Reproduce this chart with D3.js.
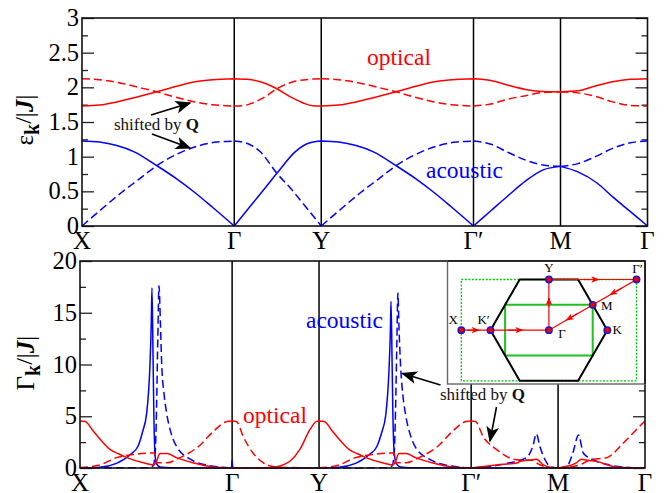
<!DOCTYPE html>
<html>
<head>
<meta charset="utf-8">
<script src="https://cdn.jsdelivr.net/npm/d3@7"></script>
<style>
  html, body { margin: 0; padding: 0; background: #fff; }
  svg { display: block; }
  text { font-family: "Liberation Serif", serif; }
</style>
</head>
<body>
<div id="board"></div>
<script>
  "use strict";

  // high symmetry points along the path
  var pathLabels = ['X', 'Γ', 'Y', 'Γ′', 'M', 'Γ'];
  var pathPositions = [0, 1.75, 2.75, 4.5, 5.5, 6.5];

  // upper panel: dispersion [path position, energy]
  var energyAcoustic = [[0,1.225],[.2,1.21],[.4,1.16],[.6,1.07],[.86,.87],[1.1,.67],[1.3,.48],[1.5,.27],[1.75,0],
    [1.95,.31],[2.1,.54],[2.24,.76],[2.45,1.07],[2.62,1.2],[2.75,1.225],
    [2.95,1.21],[3.15,1.16],[3.35,1.07],[3.61,.87],[3.85,.67],[4.05,.48],[4.25,.27],[4.5,0],
    [4.7,.22],[4.9,.44],[5.1,.65],[5.3,.81],[5.5,.86],
    [5.7,.78],[5.92,.62],[6.1,.42],[6.3,.21],[6.5,0]];
  var energyAcousticShifted = [[0,0],[.25,.27],[.45,.48],[.65,.67],[.86,.87],[1.15,1.07],[1.35,1.16],[1.55,1.21],[1.75,1.225],
    [1.88,1.2],[2.05,1.07],[2.24,.76],[2.4,.54],[2.55,.31],[2.75,0],
    [3,.27],[3.2,.48],[3.4,.67],[3.61,.87],[3.9,1.07],[4.1,1.16],[4.3,1.21],[4.5,1.225],
    [4.7,1.18],[4.9,1.06],[5.1,.95],[5.3,.88],[5.5,.86],
    [5.7,.9],[5.9,1],[6.1,1.12],[6.3,1.2],[6.5,1.225]];
  var energyOptical = [[0,1.73],[.2,1.745],[.4,1.79],[.6,1.85],[.86,1.935],[1.1,2.02],[1.3,2.08],[1.5,2.11],[1.75,2.125],
    [1.9,2.115],[2.05,2.08],[2.24,1.98],[2.4,1.86],[2.55,1.77],[2.65,1.735],[2.75,1.73],
    [2.95,1.745],[3.15,1.79],[3.35,1.85],[3.61,1.935],[3.85,2.02],[4.05,2.08],[4.25,2.11],[4.5,2.125],
    [4.7,2.1],[4.9,2.03],[5.1,1.97],[5.3,1.94],[5.5,1.935],
    [5.7,1.95],[5.9,2.02],[6.1,2.08],[6.3,2.115],[6.5,2.125]];
  var energyOpticalShifted = [[0,2.125],[.2,2.11],[.45,2.06],[.65,2.0],[.86,1.935],[1.1,1.85],[1.3,1.79],[1.5,1.75],[1.75,1.73],
    [1.85,1.735],[1.95,1.77],[2.1,1.86],[2.24,1.98],[2.43,2.08],[2.6,2.115],[2.75,2.125],
    [2.95,2.11],[3.2,2.06],[3.4,2.0],[3.61,1.935],[3.85,1.85],[4.05,1.79],[4.25,1.75],[4.5,1.73],
    [4.7,1.76],[4.9,1.83],[5.1,1.88],[5.3,1.925],[5.5,1.935],
    [5.7,1.92],[5.9,1.87],[6.1,1.79],[6.3,1.74],[6.5,1.73]];

  // lower panel: damping [path position, gamma]
  var dampAcoustic = [[0,0],[.23,.08],[.42,.45],[.5,.8],[.58,1.3],[.667,2.1],[.72,3.5],[.767,5.3],[.805,10],[.82,14],[.828,17.4],
    [.84,11],[.85,5],[.86,1.8],[.875,.5],[.92,.1],[1.05,.02],[1.74,0],[1.75,.8],
    [1.76,0],[2.75,0],[2.98,.08],[3.17,.45],[3.25,.8],[3.33,1.3],[3.417,2.1],[3.47,3.4],[3.517,5.1],[3.555,9.5],[3.57,13],[3.578,16.1],
    [3.59,10.5],[3.6,5],[3.615,1.5],[3.64,.4],[3.69,.1],[3.8,.02],[4.5,0],[5.5,0],[6.5,0]];
  var dampAcousticShifted = [[0,.02],[.78,.02],[.84,.2],[.865,1.5],[.88,5.5],[.895,12.5],[.909,17.6],
    [.925,14],[.94,10],[.965,7.3],[.997,5.3],[1.05,3.3],[1.11,2.1],[1.28,.8],[1.45,.3],[1.6,.1],[1.75,0],
    [2.75,0],[3.53,.02],[3.59,.2],[3.615,1.5],[3.63,5.5],[3.645,12],[3.657,16.9],
    [3.67,13.5],[3.69,9.6],[3.715,7],[3.747,5.1],[3.8,3.2],[3.86,2],[4.03,.8],[4.2,.3],[4.35,.1],[4.5,0],
    [4.715,.15],[4.945,.5],[5.136,1],[5.21,2.1],[5.25,3.3],[5.29,2.1],[5.35,.8],[5.42,.1],[5.5,0],
    [5.6,.15],[5.67,1.45],[5.735,3.2],[5.79,1.45],[5.9,.8],[6.09,.3],[6.325,.05],[6.5,0]];
  var dampOptical = [[0,4.55],[.06,4.5],[.15,3.6],[.25,2.6],[.345,1.8],[.45,1.35],[.54,1],[.73,.5],[.85,.3],[.875,.55],[.92,1.4],[1,1.4],[1.11,1],[1.3,.5],[1.53,.1],[1.75,0],
    [2.2,.05],[2.3,.2],[2.415,.65],[2.53,1.8],[2.645,3.7],[2.72,4.5],[2.75,4.55],
    [2.81,4.5],[2.9,3.6],[3,2.6],[3.095,1.8],[3.2,1.35],[3.29,1],[3.48,.5],[3.6,.3],[3.625,.55],[3.67,1.4],[3.75,1.4],[3.86,1],[4.05,.5],[4.28,.1],[4.5,0],
    [4.79,.3],[5.04,.5],[5.06,.65],[5.21,.8],[5.25,.85],[5.33,.3],[5.44,.03],[5.5,0],
    [5.56,.1],[5.71,.5],[5.77,.85],[5.83,.75],[5.94,.65],[6.13,.15],[6.325,.03],[6.5,0]];
  var dampOpticalShifted = [[0,.05],[.23,.3],[.42,1],[.61,1.3],[.86,1.45],[.882,.5],[1,.5],[1.15,1],[1.38,2.2],[1.53,3.5],[1.69,4.5],[1.75,4.55],
    [1.8,4.5],[1.88,3],[1.99,1.45],[2.11,.5],[2.22,.15],[2.4,.05],[2.75,.02],
    [2.98,.3],[3.17,1],[3.36,1.3],[3.61,1.45],[3.632,.5],[3.75,.5],[3.9,1],[4.13,2.2],[4.28,3.5],[4.44,4.5],[4.5,4.55],
    [4.55,4.5],[4.64,3],[4.79,1.8],[5.02,.8],[5.21,.75],[5.27,.4],[5.37,.1],[5.5,0],
    [5.75,.3],[5.87,.8],[6.06,1],[6.25,2.4],[6.4,3.7],[6.5,4.55]];

  var energyTicks = [0, 0.5, 1, 1.5, 2, 2.5, 3];
  var energyMinorTicks = [0.25, 0.75, 1.25, 1.75, 2.25, 2.75];
  var dampTicks = [0, 5, 10, 15, 20];
  var dampMinorTicks = [2.5, 7.5, 12.5, 17.5];

  // inset: Brillouin zone, k space units
  var zonePoints = [
    {name: 'X', k: [-1.5, 0], dx: -8, dy: -6},
    {name: 'K′', k: [-1, 0], dx: -7, dy: -6},
    {name: 'Γ', k: [0, 0], dx: 13, dy: 8},
    {name: 'K', k: [1, 0], dx: 10, dy: 4},
    {name: 'Y', k: [0, 0.866], dx: 0, dy: -8},
    {name: 'Γ′', k: [1.5, 0.866], dx: 1, dy: -7},
    {name: 'M', k: [0.75, 0.433], dx: 14, dy: 5}
  ];
  var hexagon = [[-1, 0], [-0.5, 0.866], [0.5, 0.866], [1, 0], [0.5, -0.866], [-0.5, -0.866]];
  var greenBox = [[-0.75, 0.433], [0.75, 0.433], [0.75, -0.433], [-0.75, -0.433]];
  var dottedBox = [[-1.5, 0.866], [1.5, 0.866], [1.5, -0.866], [-1.5, -0.866]];
  var zonePath = [[-1.5, 0], [0, 0], [0, 0.866], [1.5, 0.866], [0, 0]];
  // arrow heads on the path: [from, to]
  var zoneArrows = [
    [[-1.4, 0], [-1.2, 0]], [[-0.7, 0], [-0.45, 0]], [[0, 0.4], [0, 0.55]],
    [[0.6, 0.866], [0.85, 0.866]], [[1.25, 0.72], [1.05, 0.606]], [[0.5, 0.289], [0.3, 0.173]]
  ];

  var width = 667, height = 493;
  var red = '#ff0000', blue = '#0000ff';

  var svg = d3.select('#board').append('svg')
    .attr('width', width)
    .attr('height', height);

  var defs = svg.append('defs');
  var addMarker = function(id, color, size) {
    defs.append('marker')
      .attr('id', id)
      .attr('viewBox', '0 0 10 8')
      .attr('refX', 9).attr('refY', 4)
      .attr('markerUnits', 'userSpaceOnUse')
      .attr('markerWidth', size).attr('markerHeight', size * 0.8)
      .attr('orient', 'auto')
      .append('path')
      .attr('d', 'M0,0 L10,4 L0,8 L2.5,4 Z')
      .attr('fill', color);
  };
  addMarker('headBlack', '#000', 16);
  addMarker('headRed', red, 8);

  // cut a series at the high symmetry points, kinks stay sharp there
  var splitAtPath = function(points) {
    var parts = [], current = [];
    points.forEach(function(p) {
      current.push(p);
      if (pathPositions.indexOf(p[0]) >= 0 && current.length > 1) {
        parts.push(current);
        current = [p];
      }
    });
    return parts;
  };

  var drawPanel = function(opts) {
    var x = d3.scaleLinear().domain([0, 6.5]).range([opts.left, opts.right]);
    var y = d3.scaleLinear().domain(opts.yDomain).range([opts.bottom, opts.top]);
    var g = svg.append('g');

    // vertical lines
    g.selectAll('line.sym').data(pathPositions.slice(1, 5)).enter().append('line')
      .attr('class', 'sym')
      .attr('x1', function(d) { return x(d); })
      .attr('x2', function(d) { return x(d); })
      .attr('y1', opts.top).attr('y2', opts.bottom)
      .attr('stroke', '#000').attr('stroke-width', 1.5);

    // ticks, both sides
    var sides = [[opts.left, 1], [opts.right, -1]];
    sides.forEach(function(s) {
      var axis = s[1] > 0 ? d3.axisRight(y) : d3.axisLeft(y);
      var major = g.append('g').attr('transform', 'translate(' + s[0] + ',0)')
        .call(axis.tickValues(opts.ticks).tickSize(12).tickFormat(''));
      major.select('.domain').remove();
      var minorAxis = s[1] > 0 ? d3.axisRight(y) : d3.axisLeft(y);
      var minor = g.append('g').attr('transform', 'translate(' + s[0] + ',0)')
        .call(minorAxis.tickValues(opts.minorTicks).tickSize(6).tickFormat(''));
      minor.select('.domain').remove();
      g.selectAll('.tick line').attr('stroke', '#222').attr('stroke-width', 1.3);
    });

    g.selectAll('text.ylab').data(opts.ticks).enter().append('text')
      .attr('class', 'ylab')
      .attr('x', opts.left - 3)
      .attr('y', function(d) { return y(d) + 8; })
      .attr('text-anchor', 'end')
      .attr('font-size', 24.5)
      .text(function(d) { return d; });

    g.selectAll('text.xlab').data(pathLabels).enter().append('text')
      .attr('class', 'xlab')
      .attr('x', function(d, i) { return x(pathPositions[i]); })
      .attr('y', opts.bottom + 23)
      .attr('text-anchor', 'middle')
      .attr('font-size', 25)
      .text(function(d) { return d; });

    var line = d3.line()
      .x(function(d) { return x(d[0]); })
      .y(function(d) { return y(d[1]); })
      .curve(d3.curveMonotoneX);

    opts.series.forEach(function(s) {
      var d = splitAtPath(s.points).map(line).join('');
      g.append('path')
        .attr('d', d)
        .attr('fill', 'none')
        .attr('stroke', s.color)
        .attr('stroke-width', 1.5)
        .attr('stroke-dasharray', s.dashed ? '8,4' : null);
    });

    g.append('rect')
      .attr('x', opts.left).attr('y', opts.top)
      .attr('width', opts.right - opts.left)
      .attr('height', opts.bottom - opts.top)
      .attr('fill', 'none')
      .attr('stroke', '#111').attr('stroke-width', 1.6);
  };

  drawPanel({
    left: 82, right: 647.5, top: 18, bottom: 226,
    yDomain: [0, 3], ticks: energyTicks, minorTicks: energyMinorTicks,
    series: [
      {points: energyOptical, color: red},
      {points: energyOpticalShifted, color: red, dashed: true},
      {points: energyAcoustic, color: blue},
      {points: energyAcousticShifted, color: blue, dashed: true}
    ]
  });

  drawPanel({
    left: 80, right: 645, top: 261, bottom: 468,
    yDomain: [0, 20], ticks: dampTicks, minorTicks: dampMinorTicks,
    series: [
      {points: dampAcoustic, color: blue},
      {points: dampAcousticShifted, color: blue, dashed: true},
      {points: dampOptical, color: red},
      {points: dampOpticalShifted, color: red, dashed: true}
    ]
  });

  var label = function(txt, px, py, size, color) {
    return svg.append('text')
      .attr('x', px).attr('y', py)
      .attr('font-size', size)
      .attr('fill', color)
      .text(txt);
  };
  label('optical', 367, 65, 23.5, red);
  label('acoustic', 426, 178, 23.5, blue);
  label('acoustic', 306, 328, 23.5, blue);
  label('optical', 243, 423, 23.5, red);

  // y titles, rotated
  var yTitle = function(sym, cx, cy) {
    var t = svg.append('text')
      .attr('transform', 'translate(' + cx + ',' + cy + ') rotate(-90)')
      .attr('text-anchor', 'middle')
      .attr('font-size', 25);
    t.append('tspan').text(sym);
    t.append('tspan').attr('font-size', 20).attr('font-weight', 'bold').attr('dy', 6).text('k');
    t.append('tspan').attr('font-size', 24).attr('dy', -8).text('/');
    t.append('tspan').attr('dy', 2).text('|');
    t.append('tspan').attr('font-style', 'italic').attr('font-weight', 'bold').text('J');
    t.append('tspan').text('|');
  };
  yTitle('ε', 33, 120);
  yTitle('Γ', 34, 363);

  // inset
  var inset = svg.append('g');
  inset.append('rect')
    .attr('x', 447.5).attr('y', 261)
    .attr('width', 197.5).attr('height', 123)
    .attr('fill', '#fff')
    .attr('stroke', '#666').attr('stroke-width', 1.4);
  inset.append('line')
    .attr('x1', 447.5).attr('x2', 645).attr('y1', 261).attr('y2', 261)
    .attr('stroke', '#111').attr('stroke-width', 1.6);
  inset.append('line')
    .attr('x1', 645).attr('x2', 645).attr('y1', 261).attr('y2', 384)
    .attr('stroke', '#111').attr('stroke-width', 1.6);

  var kx = d3.scaleLinear().domain([-1.5, 1.5]).range([461.3, 636.5]);
  var ky = d3.scaleLinear().domain([-0.866, 0.866]).range([380.8, 279.5]);
  var kline = d3.line()
    .x(function(d) { return kx(d[0]); })
    .y(function(d) { return ky(d[1]); });

  inset.append('path').attr('d', kline(dottedBox) + 'Z')
    .attr('fill', 'none').attr('stroke', '#00c800')
    .attr('stroke-width', 1.3).attr('stroke-dasharray', '2,1.5');
  inset.append('path').attr('d', kline(greenBox) + 'Z')
    .attr('fill', 'none').attr('stroke', '#20c020').attr('stroke-width', 2);
  inset.append('path').attr('d', kline(hexagon) + 'Z')
    .attr('fill', 'none').attr('stroke', '#000').attr('stroke-width', 2);
  inset.append('path').attr('d', kline(zonePath))
    .attr('fill', 'none').attr('stroke', red).attr('stroke-width', 1.2);
  zoneArrows.forEach(function(a) {
    inset.append('path').attr('d', kline(a))
      .attr('fill', 'none').attr('stroke', red).attr('stroke-width', 1.2)
      .attr('marker-end', 'url(#headRed)');
  });
  inset.selectAll('circle').data(zonePoints).enter().append('circle')
    .attr('cx', function(d) { return kx(d.k[0]); })
    .attr('cy', function(d) { return ky(d.k[1]); })
    .attr('r', 3.2)
    .attr('fill', '#f00000')
    .attr('stroke', '#1a1ad0').attr('stroke-width', 1.5);
  inset.selectAll('text').data(zonePoints).enter().append('text')
    .attr('x', function(d) { return kx(d.k[0]) + d.dx; })
    .attr('y', function(d) { return ky(d.k[1]) + d.dy; })
    .attr('text-anchor', 'middle')
    .attr('font-size', 13)
    .text(function(d) { return d.name; });

  // shifted by Q notes
  var note = function(px, py) {
    var t = svg.append('text').attr('x', px).attr('y', py).attr('font-size', 17).attr('fill', '#111');
    t.append('tspan').text('shifted by ');
    t.append('tspan').attr('font-weight', 'bold').text('Q');
  };
  note(114, 130);
  note(440, 400);

  var noteArrows = [
    [151, 115, 190, 103], [152, 134, 190, 148],
    [440.5, 385, 402.5, 373.5], [496.5, 407, 490, 441]
  ];
  svg.selectAll('line.note').data(noteArrows).enter().append('line')
    .attr('class', 'note')
    .attr('x1', function(d) { return d[0]; })
    .attr('y1', function(d) { return d[1]; })
    .attr('x2', function(d) { return d[2]; })
    .attr('y2', function(d) { return d[3]; })
    .attr('stroke', '#000').attr('stroke-width', 1.6)
    .attr('marker-end', 'url(#headBlack)');
</script>
</body>
</html>
